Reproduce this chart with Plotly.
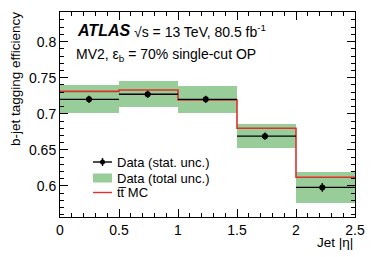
import plotly.graph_objects as go

# ---- data ----
bin_edges = [0.0, 0.5, 1.0, 1.5, 2.0, 2.5]
data_x = [0.246, 0.743, 1.235, 1.737, 2.223]
data_eff = [0.720, 0.727, 0.720, 0.669, 0.598]
data_stat = [0.005, 0.005, 0.005, 0.005, 0.006]
band_low = [0.701, 0.710, 0.701, 0.653, 0.577]
band_high = [0.740, 0.745, 0.738, 0.686, 0.619]
mc_eff = [0.731, 0.733, 0.719, 0.680, 0.612]
x_ticks = [0, 0.5, 1, 1.5, 2, 2.5]
x_ticklabels = ["0", "0.5", "1", "1.5", "2", "2.5"]
y_ticks = [0.6, 0.65, 0.7, 0.75, 0.8]
y_ticklabels = ["0.6", "0.65", "0.7", "0.75", "0.8"]

centers = [(a + b) / 2 for a, b in zip(bin_edges[:-1], bin_edges[1:])]
widths = [b - a for a, b in zip(bin_edges[:-1], bin_edges[1:])]

FONT = "Liberation Sans, Arial, Helvetica, sans-serif"
GREEN = "#98cc98"
RED = "#e0302a"
XR = [0, 2.5]
YR = [0.557, 0.841]

fig = go.Figure()

# total uncertainty band
fig.add_trace(go.Bar(
    x=centers, y=[h - l for h, l in zip(band_high, band_low)], base=band_low,
    width=widths, marker=dict(color=GREEN, line=dict(width=0)),
    showlegend=False, hoverinfo="skip"))

xerr_minus = [x - a for x, a in zip(data_x, bin_edges[:-1])]
xerr_plus = [b - x for x, b in zip(data_x, bin_edges[1:])]

# MC step line
fig.add_trace(go.Scatter(
    x=bin_edges, y=mc_eff + [mc_eff[-1]], mode="lines",
    line=dict(color=RED, width=1.6, shape="hv"), showlegend=False))

# data points
fig.add_trace(go.Scatter(
    x=data_x, y=data_eff, mode="markers",
    marker=dict(color="black", size=6, symbol="circle"),
    error_x=dict(type="data", symmetric=False, array=xerr_plus, arrayminus=xerr_minus,
                 color="black", thickness=1.4, width=0),
    error_y=dict(type="data", array=data_stat, color="black", thickness=1.4, width=0),
    showlegend=False))

# invisible trace to create mirrored (top/right) axes for ticks
fig.add_trace(go.Scatter(x=[None], y=[None], xaxis="x2", yaxis="y2", showlegend=False, hoverinfo="skip"))

# ---- manual legend (paper-pixel positions) ----
W, H = 374, 257
L, R, T, B = 60, 19, 12, 40
pw, ph = W - L - R, H - T - B


def px(x):
    return (x - L) / pw


def py(y):
    return 1 - (y - T) / ph


shapes = []
annotations = []
y1 = 162
shapes.append(dict(type="line", xref="paper", yref="paper", x0=px(93), x1=px(112), y0=py(y1), y1=py(y1),
                   line=dict(color="black", width=1.4)))
shapes.append(dict(type="line", xref="paper", yref="paper", x0=px(102.5), x1=px(102.5), y0=py(y1 - 4), y1=py(y1 + 4),
                   line=dict(color="black", width=1.4)))
shapes.append(dict(type="circle", xref="paper", yref="paper", x0=px(100), x1=px(105), y0=py(y1 - 2.5),
                   y1=py(y1 + 2.5), fillcolor="black", line=dict(color="black", width=0)))
y2 = 178
shapes.append(dict(type="rect", xref="paper", yref="paper", x0=px(93), x1=px(112), y0=py(y2 - 4.5), y1=py(y2 + 4.5),
                   fillcolor=GREEN, line=dict(width=0)))
y3 = 192.5
shapes.append(dict(type="line", xref="paper", yref="paper", x0=px(93), x1=px(112), y0=py(y3), y1=py(y3),
                   line=dict(color=RED, width=1.4)))
for yy, txt in [(y1, "Data (stat. unc.)"), (y2, "Data (total unc.)"), (y3, "tt\u0305 MC")]:
    annotations.append(dict(xref="paper", yref="paper", x=px(115), y=py(yy), text=txt, showarrow=False,
                            xanchor="left", yanchor="middle", font=dict(family=FONT, size=13, color="black")))

# ATLAS labels
annotations.append(dict(xref="paper", yref="paper", x=px(75), y=py(31), text="<b><i>ATLAS</i></b>",
                        showarrow=False, xanchor="left", yanchor="middle",
                        font=dict(family=FONT, size=16, color="black")))
annotations.append(dict(xref="paper", yref="paper", x=px(132), y=py(31),
                        text="\u221as = 13 TeV, 80.5 fb<sup>-1</sup>",
                        showarrow=False, xanchor="left", yanchor="middle",
                        font=dict(family=FONT, size=14, color="black")))
annotations.append(dict(xref="paper", yref="paper", x=px(74), y=py(55),
                        text="MV2, \u03b5<sub>b</sub> = 70% single-cut OP",
                        showarrow=False, xanchor="left", yanchor="middle",
                        font=dict(family=FONT, size=14, color="black")))
# axis titles
annotations.append(dict(xref="paper", yref="paper", x=px(15), y=py(79), text="b-jet tagging efficiency",
                        showarrow=False, textangle=-90, xanchor="center", yanchor="middle",
                        font=dict(family=FONT, size=13.5, color="black")))
annotations.append(dict(xref="paper", yref="paper", x=1, y=py(243), text="Jet |\u03b7|",
                        showarrow=False, xanchor="right", yanchor="middle",
                        font=dict(family=FONT, size=13.5, color="black")))

common = dict(ticks="inside", ticklen=8, tickwidth=1, tickcolor="black",
              showline=True, linecolor="black", linewidth=1, showgrid=False, zeroline=False,
              automargin=False)

fig.update_layout(
    width=W, height=H, margin=dict(l=L, r=R, t=T, b=B),
    paper_bgcolor="white", plot_bgcolor="white",
    font=dict(family=FONT, size=14, color="black"),
    bargap=0, barmode="overlay",
    shapes=shapes, annotations=annotations,
    xaxis=dict(range=XR, tickvals=x_ticks, ticktext=x_ticklabels,
               minor=dict(dtick=0.1, ticks="inside", ticklen=4, tickcolor="black", showgrid=False),
               tickfont=dict(family=FONT, size=14), **common),
    yaxis=dict(range=YR, tickvals=y_ticks, ticktext=y_ticklabels,
               minor=dict(tick0=0.6, dtick=0.01, ticks="inside", ticklen=4, tickcolor="black", showgrid=False),
               tickfont=dict(family=FONT, size=14), **common),
    xaxis2=dict(range=XR, overlaying="x", side="top", anchor="y2", tickvals=x_ticks, showticklabels=False,
                minor=dict(dtick=0.1, ticks="inside", ticklen=4, tickcolor="black", showgrid=False), **common),
    yaxis2=dict(range=YR, overlaying="y", side="right", anchor="x2", tickvals=y_ticks, showticklabels=False,
                minor=dict(tick0=0.6, dtick=0.01, ticks="inside", ticklen=4, tickcolor="black", showgrid=False),
                **common),
)

fig.write_html("out.html", config={"displayModeBar": False},
               post_script="document.body.style.margin='0';")
